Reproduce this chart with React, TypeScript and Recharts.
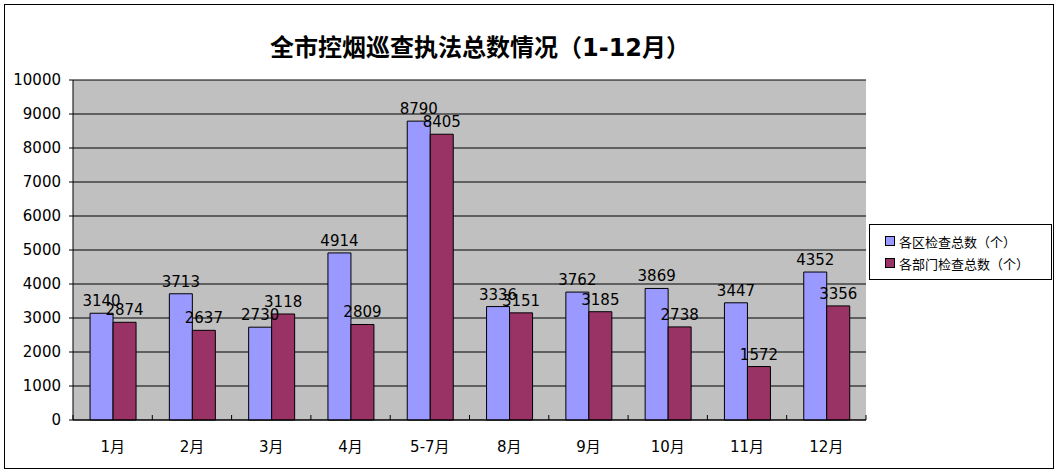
import React from "react";
import { BarChart, Bar, XAxis, YAxis, CartesianGrid, Legend, LabelList } from "recharts";

const categories = ["1月", "2月", "3月", "4月", "5-7月", "8月", "9月", "10月", "11月", "12月"];
const districtTotals = [3140, 3713, 2730, 4914, 8790, 3336, 3762, 3869, 3447, 4352];
const departmentTotals = [2874, 2637, 3118, 2809, 8405, 3151, 3185, 2738, 1572, 3356];
const yTicks = [0, 1000, 2000, 3000, 4000, 5000, 6000, 7000, 8000, 9000, 10000];
const seriesNames = ["各区检查总数（个）", "各部门检查总数（个）"];
const seriesColors = ["#9999FF", "#993366"];
const title = "全市控烟巡查执法总数情况（1-12月）";

const data = categories.map((c, i) => ({
  name: c,
  d: districtTotals[i],
  p: departmentTotals[i],
}));

const W = 1058;
const H = 473;
const LEG_W = 183;
const M = { top: 80, right: 192 - LEG_W, bottom: 23, left: 13 };
const Y_W = 60;
const X_H = 30;
const plotW = W - 192 - 13 - Y_W;
const band = plotW / categories.length;
const FONT = "'DejaVu Sans', 'Noto Sans CJK SC', sans-serif";

const XTick = (props: any) => {
  const { x, y, payload, index } = props;
  const last = index === categories.length - 1;
  return (
    <g>
      <line x1={x - band / 2} y1={y} x2={x - band / 2} y2={y - 5} stroke="#000" />
      {last && <line x1={x + band / 2} y1={y} x2={x + band / 2} y2={y - 5} stroke="#000" />}
      <text x={x} y={y + 32} textAnchor="middle" fontSize={15} fontFamily={FONT} fill="#000">
        {payload.value}
      </text>
    </g>
  );
};

const LegendContent = () => (
  <div style={{ fontFamily: FONT, fontSize: 13, color: "#000", paddingTop: 5 }}>
    {seriesNames.map((n, i) => (
      <div key={n} style={{ display: "flex", alignItems: "center", height: 22, paddingLeft: 15 }}>
        <span
          style={{
            display: "inline-block",
            width: 8,
            height: 8,
            background: seriesColors[i],
            border: "1px solid #000",
            marginRight: 4,
          }}
        />
        <span>{n}</span>
      </div>
    ))}
  </div>
);

export default function App() {
  return (
    <div style={{ position: "absolute", left: 0, top: 0, width: W, height: H, background: "#fff" }}>
      <div
        style={{
          position: "absolute",
          left: 4,
          top: 4,
          width: 1050,
          height: 465,
          border: "1px solid #000",
          boxSizing: "border-box",
        }}
      />
      <div
        style={{
          position: "absolute",
          left: 0,
          width: 960,
          top: 32,
          textAlign: "center",
          fontFamily: FONT,
          fontWeight: "bold",
          fontSize: 24,
          lineHeight: "32px",
          color: "#000",
        }}
      >
        {title}
      </div>
      <div style={{ position: "absolute", left: 0, top: 0 }}>
        <BarChart width={W} height={H} data={data} margin={M} barGap={0} barCategoryGap="21.5%">
          <CartesianGrid vertical={false} stroke="#000" fill="#C0C0C0" fillOpacity={1} />
          <XAxis
            dataKey="name"
            height={X_H}
            tickLine={false}
            tickSize={0}
            tickMargin={0}
            axisLine={{ stroke: "#000" }}
            tick={<XTick />}
            interval={0}
          />
          <YAxis
            width={Y_W}
            domain={[0, 10000]}
            ticks={yTicks}
            interval={0}
            tickSize={4}
            tickMargin={8}
            axisLine={{ stroke: "#000" }}
            tickLine={{ stroke: "#000" }}
            tick={{ fontSize: 15, fontFamily: FONT, fill: "#000" }}
          />
          <Legend
            layout="vertical"
            align="right"
            verticalAlign="middle"
            content={<LegendContent />}
            wrapperStyle={{
              position: "absolute",
              left: 869,
              top: 224,
              right: "auto",
              width: LEG_W,
              height: 56,
              border: "1px solid #000",
              boxSizing: "border-box",
              background: "#fff",
            }}
          />
          <Bar dataKey="d" name={seriesNames[0]} fill={seriesColors[0]} stroke="#000" strokeWidth={1} isAnimationActive={false}>
            <LabelList dataKey="d" position="top" offset={7} fontSize={15} fontFamily={FONT} fill="#000" />
          </Bar>
          <Bar dataKey="p" name={seriesNames[1]} fill={seriesColors[1]} stroke="#000" strokeWidth={1} isAnimationActive={false}>
            <LabelList dataKey="p" position="top" offset={7} fontSize={15} fontFamily={FONT} fill="#000" />
          </Bar>
        </BarChart>
      </div>
    </div>
  );
}
